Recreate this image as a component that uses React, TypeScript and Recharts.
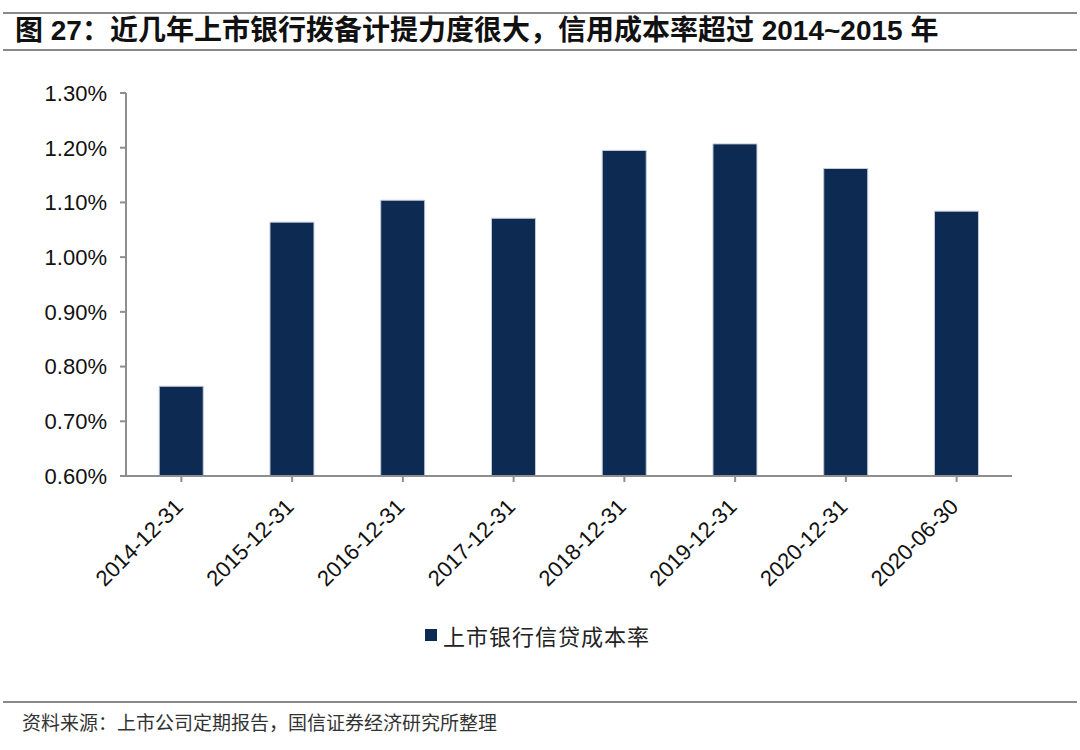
import { Bar, BarChart, XAxis, YAxis } from "recharts";

const periods = [
  "2014-12-31",
  "2015-12-31",
  "2016-12-31",
  "2017-12-31",
  "2018-12-31",
  "2019-12-31",
  "2020-12-31",
  "2020-06-30",
];
const creditCost = [0.764, 1.064, 1.104, 1.071, 1.195, 1.207, 1.162, 1.084];
const yTicks = [0.6, 0.7, 0.8, 0.9, 1.0, 1.1, 1.2, 1.3];
const seriesName = "上市银行信贷成本率";
const title = "图 27：近几年上市银行拨备计提力度很大，信用成本率超过 2014~2015 年";
const source = "资料来源：上市公司定期报告，国信证券经济研究所整理";

const BAR = "#0d2a52";
const AXIS = "#8e8e8e";
const NUM_FONT = "'Liberation Sans', Arial, sans-serif";
const CJK_FONT = "'Noto Sans CJK SC', sans-serif";

const data = periods.map((p, i) => ({ period: p, value: creditCost[i] }));

function XTick(props: any) {
  const { x, y, payload } = props;
  return (
    <g transform={`translate(${x + 3},${y + 24}) rotate(-45)`}>
      <text
        x={0}
        y={0}
        textAnchor="end"
        fontSize={22}
        fontFamily={NUM_FONT}
        fill="#111"
      >
        {payload.value}
      </text>
    </g>
  );
}

export default function App() {
  return (
    <div
      style={{
        position: "absolute",
        left: 0,
        top: 0,
        width: 1080,
        height: 750,
        background: "#fff",
        overflow: "hidden",
      }}
    >
      <div style={{ position: "absolute", left: 3, right: 3, top: 12, borderTop: "2px solid #8a8a8a" }} />
      <div
        style={{
          position: "absolute",
          left: 15,
          top: 13,
          height: 36,
          lineHeight: "36px",
          fontSize: 28,
          fontWeight: "bold",
          fontFamily: `'Liberation Sans', ${CJK_FONT}`,
          color: "#111",
          whiteSpace: "nowrap",
        }}
      >
        {title}
      </div>
      <div style={{ position: "absolute", left: 3, right: 3, top: 49, borderTop: "2px solid #8a8a8a" }} />

      <div style={{ position: "absolute", left: 0, top: 0 }}>
        <BarChart
          width={1080}
          height={750}
          data={data}
          margin={{ top: 93, right: 68, left: 0, bottom: 0 }}
          barCategoryGap="30%"
        >
          <XAxis
            dataKey="period"
            height={274}
            interval={0}
            stroke={AXIS}
            strokeWidth={2}
            tickSize={6}
            tick={<XTick />}
          />
          <YAxis
            width={126}
            domain={[0.6, 1.3]}
            ticks={yTicks}
            allowDataOverflow
            stroke={AXIS}
            strokeWidth={2}
            tickSize={6}
            tickMargin={13}
            tickFormatter={(v: number) => `${v.toFixed(2)}%`}
            tick={{ fontSize: 22, fontFamily: NUM_FONT, fill: "#111" }}
          />
          <Bar
            dataKey="value"
            name={seriesName}
            fill={BAR}
            stroke="#c3cbd8"
            strokeWidth={1}
            isAnimationActive={false}
          />
        </BarChart>
      </div>

      <div
        style={{
          position: "absolute",
          left: 425,
          top: 620,
          height: 30,
          display: "flex",
          alignItems: "center",
          whiteSpace: "nowrap",
        }}
      >
        <span style={{ width: 12, height: 12, background: BAR, display: "inline-block", marginRight: 6 }} />
        <span style={{ fontSize: 22, letterSpacing: 1, fontFamily: CJK_FONT, color: "#222" }}>{seriesName}</span>
      </div>

      <div style={{ position: "absolute", left: 3, right: 3, top: 701, borderTop: "2px solid #8a8a8a" }} />
      <div
        style={{
          position: "absolute",
          left: 22,
          top: 708,
          lineHeight: "28px",
          fontSize: 19,
          fontFamily: CJK_FONT,
          color: "#333",
          whiteSpace: "nowrap",
        }}
      >
        {source}
      </div>
    </div>
  );
}
